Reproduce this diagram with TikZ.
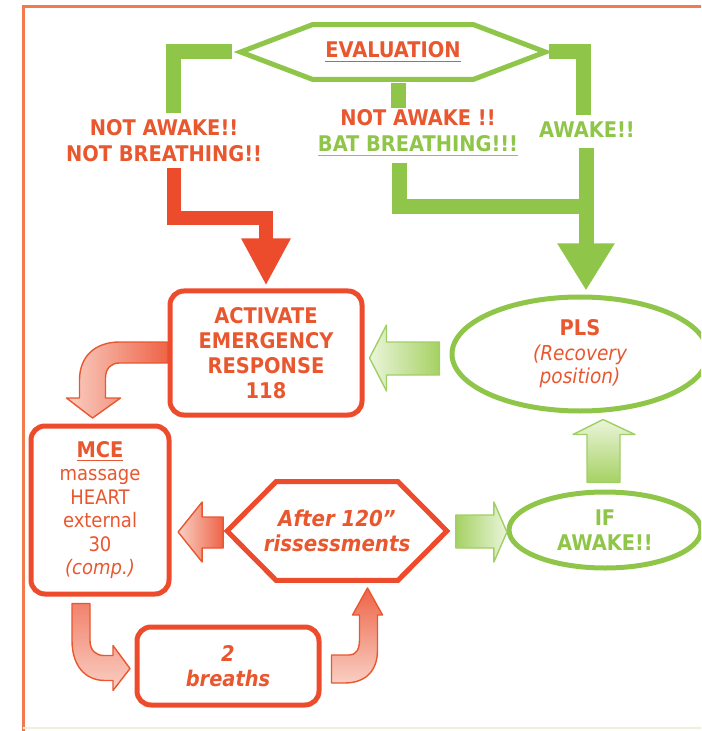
\documentclass[tikz,border=0pt]{standalone}
\usepackage{fontspec}
\setmainfont{DejaVu Sans Condensed}
\usetikzlibrary{arrows.meta,shapes.geometric,positioning}

\definecolor{cprred}{HTML}{E9572F}
\definecolor{boxred}{HTML}{EC4B2C}
\definecolor{cprgreen}{HTML}{8FC64A}
\definecolor{palegreen}{HTML}{EAF5DA}
\definecolor{midgreen}{HTML}{A6D163}
\definecolor{palered}{HTML}{F9CFC3}
\definecolor{midred}{HTML}{EE6448}
\definecolor{frameorange}{HTML}{F27B4E}
\definecolor{faintline}{HTML}{F1EFD9}

\tikzset{
  lbl/.style={align=center, inner sep=0pt, font=\fontsize{10.8}{13}\selectfont\bfseries},
  redbox/.style={draw=boxred, line width=2.5pt, rounded corners=7pt, align=center,
    text=cprred, inner sep=0pt},
  greenoval/.style={ellipse, draw=cprgreen, line width=2.5pt, align=center, inner sep=0pt},
  greenhex/.style={draw=cprgreen, line width=2.5pt},
  redhex/.style={draw=boxred, line width=2.5pt},
  greenpipe/.style={draw=cprgreen, line width=7.5pt},
  redpipe/.style={draw=boxred, line width=7pt},
  fatgreen/.style={draw=cprgreen!85, line width=0.7pt, line join=round},
  fatred/.style={draw=cprred, line width=0.7pt, line join=round}
}

\begin{document}
\begin{tikzpicture}[x=0.5pt,y=-0.5pt]
\useasboundingbox (0,0) rectangle (701,731);
\clip (0,0) rectangle (701,731);
% frame
\draw[frameorange, line width=1.5pt] (701,7) -- (23,7) -- (23,731);
\draw[faintline, line width=1pt] (23,728) -- (701,728);
%
% evaluation and its three answers
\node[lbl, text=cprred, minimum width=152pt, minimum height=27pt] (eval) at (393,52)
  {\underline{EVALUATION}};
\draw[greenhex] (eval.west) -- ([xshift=36pt]eval.north west)
  -- ([xshift=-36pt]eval.north east) -- (eval.east)
  -- ([xshift=-36pt]eval.south east) -- ([xshift=36pt]eval.south west) -- cycle;
\node[lbl, text=cprred] (notbreath) at (164,141) {NOT AWAKE!!\\NOT BREATHING!!};
\node[lbl, text=cprred] (batbreath) at (418,133)
  {NOT AWAKE !!\\\textcolor{cprgreen}{\underline{BAT BREATHING!!!}}};
\node[lbl, text=cprgreen] (awake) at (587,130) {AWAKE!!};
%
\node[redbox, minimum width=96pt, minimum height=62pt,
  font=\fontsize{10.8}{12.5}\selectfont\bfseries] (act) at (266,353)
  {ACTIVATE\\EMERGENCY\\RESPONSE\\118};
\node[greenoval, minimum width=128pt, minimum height=57pt, text=cprred,
  font=\fontsize{10.3}{11.5}\selectfont] (pls) at (580,354)
  {{\fontsize{10.8}{13}\selectfont\bfseries PLS}\\[1pt]\itshape (Recovery\\\itshape position)};
\node[redbox, minimum width=69pt, minimum height=84pt,
  font=\fontsize{10}{11.75}\selectfont] (mce) at (100,510)
  {{\fontsize{10.8}{12}\selectfont\bfseries\underline{MCE}}\\massage\\HEART\\external\\30\\\itshape (comp.)};
\node[lbl, text=cprred, minimum width=109.5pt, minimum height=49pt,
  font=\fontsize{11}{12.5}\selectfont\bfseries\itshape] (after) at (337,531)
  {After 120”\\rissessments};
\draw[redhex] (after.west) -- ([xshift=24.5pt]after.north west)
  -- ([xshift=-24.5pt]after.north east) -- (after.east)
  -- ([xshift=-24.5pt]after.south east) -- ([xshift=24.5pt]after.south west) -- cycle;
\node[greenoval, minimum width=96pt, minimum height=38pt, text=cprgreen,
  font=\fontsize{10.8}{12.5}\selectfont\bfseries] (ifawake) at (605,530) {IF\\AWAKE!!};
\node[redbox, minimum width=91pt, minimum height=39pt,
  font=\fontsize{10.8}{12.5}\selectfont\bfseries\itshape] (breaths) at (228,666)
  {2\\breaths};
%
% thick connectors from the evaluation
\coordinate (lTop) at (173,113);
\coordinate (rTop) at (583,115);
\coordinate (mStub) at (398,108);
\coordinate (mBot) at (399,163);
\coordinate (rBot) at (586,148);
\coordinate (mJoin) at (586,207);
\coordinate (redTop) at (174,168);
\coordinate (redBend) at (0,218);
\draw[greenpipe] ([xshift=-4.5pt]eval.west) -| (lTop);
\draw[greenpipe] ([xshift=2pt]eval.east) -| (rTop);
\draw[greenpipe] ([yshift=-2pt]mStub |- eval.south) -- (mStub);
\draw[greenpipe] (mBot) |- (mJoin);
\draw[greenpipe, -{Triangle[width=27pt,length=23.5pt]}, shorten >=2pt]
  (rBot) -- (rBot |- pls.north);
\draw[redpipe, -{Triangle[width=23pt,length=23.5pt]}, shorten >=1.5pt]
  (redTop) |- (act.north |- redBend) -- (act.north);
%
% fat block arrows
\shadedraw[fatgreen, left color=palegreen, right color=midgreen, shift={(pls.west)}]
  (-10,-12) -- (-63,-12) -- (-63,-29) -- (-80,4) -- (-63,37) -- (-63,21) -- (-10,21) -- cycle;
\shadedraw[fatred, left color=palered, right color=midred, shift={(act.west)}]
  (0,-11) -- (-48,-11) .. controls (-72,-11) and (-88,3) .. (-88,27) -- (-88,45)
  -- (-101,45) -- (-75,65) -- (-47,45) -- (-62,45) -- (-62,25)
  .. controls (-62,15) and (-56,10) .. (-48,10) -- (0,10) -- cycle;
\shadedraw[fatred, left color=palered, right color=midred, shift={(after.west)}]
  (-4,-14) -- (-25,-14) -- (-25,-29) -- (-49,1) -- (-25,31) -- (-25,17) -- (-4,17) -- cycle;
\shadedraw[fatgreen, left color=midgreen, right color=palegreen, shift={(after.east)}]
  (9,-16) -- (47,-16) -- (47,-29) -- (60,1) -- (47,31) -- (47,17) -- (9,17) -- cycle;
\shadedraw[fatgreen, top color=palegreen, bottom color=midgreen, shift={(ifawake.north)}]
  (-18,-7) -- (-18,-55) -- (-32,-55) -- (-2,-70) -- (30,-55) -- (15,-55) -- (15,-7) -- cycle;
\shadedraw[fatred, top color=midred!80, bottom color=palered, shift={(mce.south)}]
  (-28,7) -- (-28,44) .. controls (-28,69) and (-15,84) .. (5,84) -- (13,84) -- (13,94)
  -- (30,72) -- (13,49) -- (13,59) -- (4,59) .. controls (-4,59) and (-10,54) .. (-10,44)
  -- (-10,7) -- cycle;
\shadedraw[fatred, top color=midred, bottom color=palered, shift={(breaths.east)}]
  (10,-11) -- (28,-11) .. controls (34,-11) and (38,-16) .. (38,-26) -- (38,-51)
  -- (31,-51) -- (46,-78) -- (61,-51) -- (56,-51) -- (56,-16)
  .. controls (56,6) and (43,17) .. (23,17) -- (10,17) -- cycle;
\end{tikzpicture}
\end{document}
